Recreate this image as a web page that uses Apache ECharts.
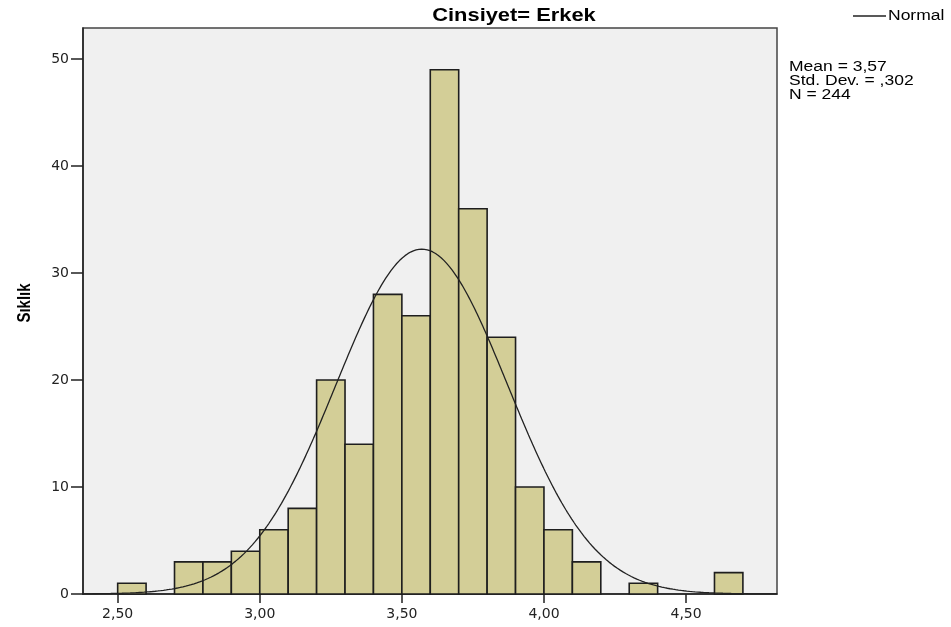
<!DOCTYPE html>
<html>
<head>
<meta charset="utf-8">
<title>Cinsiyet= Erkek</title>
<script src="https://cdn.jsdelivr.net/npm/echarts@6/dist/echarts.min.js"></script>
<style>
  html, body { margin: 0; padding: 0; background: #ffffff; }
  #chart { width: 951px; height: 627px; }
</style>
</head>
<body>
<div id="chart"></div>
<script>
// Histogram bins (lower edge of each 0.1-wide bin) and their frequencies
const binStarts = [2.5, 2.6, 2.7, 2.8, 2.9, 3.0, 3.1, 3.2, 3.3, 3.4, 3.5, 3.6, 3.7, 3.8, 3.9, 4.0, 4.1, 4.2, 4.3, 4.4, 4.5, 4.6];
const counts    = [1,   0,   3,   3,   4,   6,   8,   20,  14,  28,  26,  49,  36,  24,  10,  6,   3,   0,   1,   0,   0,   2];
const binWidth = 0.1;

// Summary statistics shown beside the plot
const statMean = 3.57;
const statSd = 0.302;
const statN = 244;
const statLines = ['Mean = 3,57', 'Std. Dev. = ,302', 'N = 244'];

// Axis ticks
const xTicks = [2.5, 3.0, 3.5, 4.0, 4.5];
const yTicks = [0, 10, 20, 30, 40, 50];

const xMin = 2.378, xMax = 4.82;
const yMax = 52.9;

// Fitted normal curve, scaled to counts per bin
const normalCurve = [];
for (let i = 0; i <= 500; i++) {
  const x = xMin + (xMax - xMin) * i / 500;
  const z = (x - statMean) / statSd;
  const y = statN * binWidth / (statSd * Math.sqrt(2 * Math.PI)) * Math.exp(-0.5 * z * z);
  normalCurve.push([x, y]);
}

const barData = binStarts.map((s, i) => [s, s + binWidth, counts[i]]).filter(d => d[2] > 0);

const fmt = v => v.toFixed(2).replace('.', ',');
const font = 'Arial, "Liberation Sans", sans-serif';
const tickFont = '"DejaVu Sans", Arial, sans-serif';
const wide = 1.25;   // horizontal stretch of the annotation text

const chart = echarts.init(document.getElementById('chart'), null, { renderer: 'canvas' });
chart.setOption({
  animation: false,
  backgroundColor: '#ffffff',
  grid: {
    left: 83, top: 28, width: 694, height: 566,
    show: true, backgroundColor: '#f0f0f0', borderColor: '#444', borderWidth: 1.5
  },
  xAxis: {
    type: 'value', min: xMin, max: xMax,
    splitLine: { show: false },
    axisLine: { show: true, lineStyle: { color: '#222', width: 1.5 } },
    axisTick: { show: true, customValues: xTicks, length: 9, lineStyle: { color: '#222', width: 1.5 } },
    axisLabel: {
      customValues: xTicks, formatter: fmt, margin: 13,
      fontFamily: tickFont, fontSize: 14, color: '#222'
    }
  },
  yAxis: {
    type: 'value', min: 0, max: yMax,
    splitLine: { show: false },
    axisLine: { show: true, lineStyle: { color: '#222', width: 1.5 } },
    axisTick: { show: true, customValues: yTicks, length: 12, lineStyle: { color: '#222', width: 1.5 } },
    axisLabel: {
      customValues: yTicks, margin: 14,
      fontFamily: tickFont, fontSize: 14, color: '#222'
    }
  },
  graphic: [{
    // chart title
    type: 'text', x: 514, y: 7, scaleX: wide,
    style: {
      text: 'Cinsiyet= Erkek', fontFamily: font, fontSize: 17.5, fontWeight: 'bold',
      fill: '#000', align: 'center', verticalAlign: 'top'
    }
  }, {
    // vertical axis title
    type: 'text', x: 25, y: 303, rotation: Math.PI / 2, scaleY: wide,
    style: {
      text: 'Sıklık', fontFamily: font, fontSize: 15, fontWeight: 'bold',
      fill: '#000', align: 'center', verticalAlign: 'middle'
    }
  }, {
    // legend entry for the fitted curve
    type: 'line', shape: { x1: 853, y1: 16, x2: 886, y2: 16 },
    style: { stroke: '#222', lineWidth: 1.3 }
  }, {
    type: 'text', x: 888, y: 9, scaleX: wide,
    style: { text: 'Normal', fontFamily: font, fontSize: 14, fill: '#000', verticalAlign: 'top' }
  }, {
    // summary statistics
    type: 'text', x: 789, y: 60, scaleX: wide,
    style: {
      text: statLines.join('\n'), fontFamily: font, fontSize: 14,
      lineHeight: 14, fill: '#000', verticalAlign: 'top'
    }
  }],
  series: [{
    type: 'custom',
    name: 'Frequency',
    data: barData,
    renderItem: (params, api) => {
      const p0 = api.coord([api.value(0), api.value(2)]);
      const p1 = api.coord([api.value(1), 0]);
      return {
        type: 'rect',
        shape: { x: p0[0], y: p0[1], width: p1[0] - p0[0], height: p1[1] - p0[1] },
        style: { fill: '#d3ce97', stroke: '#1e1e1e', lineWidth: 1.6 }
      };
    },
    encode: { x: [0, 1], y: 2 },
    z: 2
  }, {
    type: 'line',
    name: 'Normal',
    data: normalCurve,
    showSymbol: false, symbol: 'none',
    lineStyle: { color: '#222', width: 1.3 },
    itemStyle: { color: '#222' },
    z: 3
  }]
});
</script>
</body>
</html>
